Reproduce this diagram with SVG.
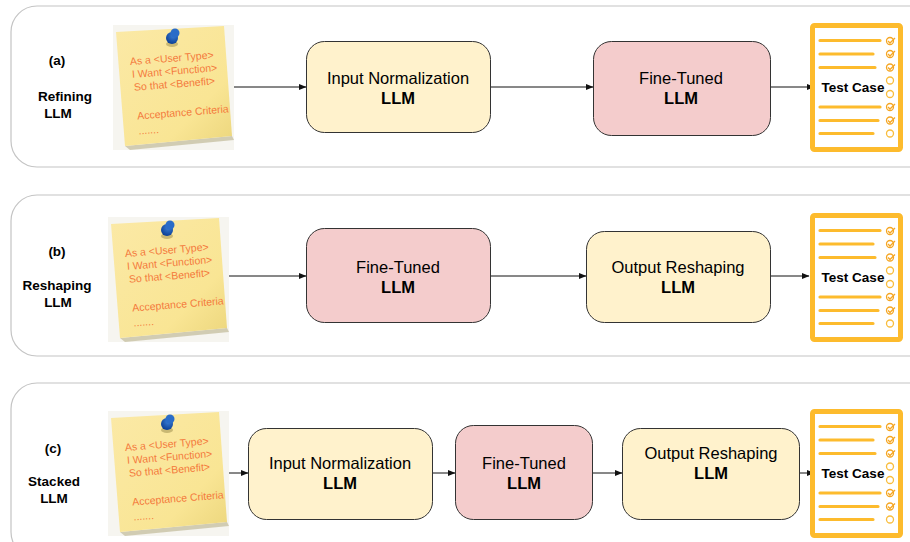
<svg xmlns="http://www.w3.org/2000/svg" width="910" height="542" viewBox="0 0 910 542">
<style>
text{font-family:"Liberation Sans",Arial,sans-serif;text-anchor:middle;fill:#000}
.panel{fill:#fff;stroke:#c4c4c4;stroke-width:1.2}
.y{fill:#fff2cc;stroke:#333;stroke-width:1}
.r{fill:#f4cccc;stroke:#333;stroke-width:1}
.t{font-size:16.5px}
.b{font-size:16.5px;font-weight:bold}
.l{font-size:13.5px;font-weight:bold}
.c{stroke:#111;stroke-width:1;fill:none;marker-end:url(#a)}
.n{font-size:10.5px;fill:#f47a3c;text-anchor:start;font-family:"Liberation Sans",Arial,sans-serif}
.ln{stroke:#fdbb2d;stroke-width:3.2;stroke-linecap:round}
.o{fill:none;stroke:#f9bd3c;stroke-width:1.3}
.k{fill:none;stroke:#f5a623;stroke-width:1.3}
</style>
<defs>
<marker id="a" viewBox="0 0 8 8" refX="7.5" refY="4" markerWidth="8" markerHeight="8" markerUnits="userSpaceOnUse" orient="auto"><path d="M0 .8 8 4 0 7.2z" fill="#111"/></marker>
<linearGradient id="ng" x1="0" y1="0" x2="1" y2="1"><stop offset="0" stop-color="#fbe9a6"/><stop offset=".7" stop-color="#f9e594"/><stop offset="1" stop-color="#ecd67c"/></linearGradient>
<radialGradient id="pg" cx=".6" cy=".3" r=".7"><stop offset="0" stop-color="#3b7fd6"/><stop offset="1" stop-color="#0b3f96"/></radialGradient>
<g id="note">
<rect x="113" y="25" width="121" height="125" fill="#f6f5f0"/>
<path d="M125 146 232 136 234 140 130 150z" fill="#b9b08a" opacity=".6"/>
<path d="M116 32 224 26 232 136 125 146z" fill="url(#ng)"/>
<ellipse cx="172" cy="44" rx="6" ry="3" fill="#8d7f3f" opacity=".45"/>
<circle cx="172" cy="38" r="6" fill="url(#pg)"/>
<circle cx="175" cy="33" r="4.5" fill="#2a6cc8"/>
<g transform="rotate(-4.5 130 62)">
<text class="n" x="130" y="65">As a &lt;User Type&gt;</text>
<text class="n" x="131" y="78">I Want &lt;Function&gt;</text>
<text class="n" x="132" y="91">So that &lt;Benefit&gt;</text>
<text class="n" x="133" y="120">Acceptance Criteria</text>
<text class="n" x="133" y="135" font-size="6">.......</text>
</g>
</g>
<g id="doc">
<rect x="812.500" y="25.500" width="88" height="124" rx="2" fill="#fff" stroke="#fdbb2d" stroke-width="5"/>
<path class="ln" d="M820 40.500H880M820 54H873M820 67.500H875M820 107H880M820 120.500H878M820 133.500H873"/>
<circle class="k" cx="890" cy="41" r="3.500"/><path class="k" d="M888 41l2 2 5-5"/>
<circle class="k" cx="890" cy="54" r="3.500"/><path class="k" d="M888 54l2 2 5-5"/>
<circle class="k" cx="890" cy="67.500" r="3.500"/><path class="k" d="M888 67.500l2 2 5-5"/>
<circle class="o" cx="890" cy="80.500" r="3.500"/>
<circle class="o" cx="890" cy="94" r="3.500"/>
<circle class="k" cx="890" cy="107" r="3.500"/><path class="k" d="M888 107l2 2 5-5"/>
<circle class="k" cx="890" cy="120.500" r="3.500"/><path class="k" d="M888 120.500l2 2 5-5"/>
<circle class="o" cx="890" cy="133.500" r="3.500"/>
</g>
</defs>
<rect width="910" height="542" fill="#fff"/>
<g id="panel-a"><rect class="panel" x="11" y="6" width="930" height="161" rx="26"/><text class="l" x="57" y="65">(a)</text><text class="l" x="65" y="101">Refining</text><text class="l" x="58" y="118">LLM</text></g>
<g id="panel-b"><rect class="panel" x="11" y="195" width="930" height="161" rx="26"/><text class="l" x="57" y="256">(b)</text><text class="l" x="57" y="290">Reshaping</text><text class="l" x="58" y="307">LLM</text></g>
<g id="panel-c"><rect class="panel" x="11" y="383" width="930" height="175" rx="26"/><text class="l" x="53" y="453">(c)</text><text class="l" x="54" y="486">Stacked</text><text class="l" x="54" y="503">LLM</text></g>
<g id="connectors">
<path class="c" d="M234 87H306"/><path class="c" d="M491 87H593"/><path class="c" d="M771 87H814"/>
<path class="c" d="M228 276H306"/><path class="c" d="M491 276H586"/><path class="c" d="M771 276H809"/>
<path class="c" d="M228 473H248"/><path class="c" d="M432 473H455"/><path class="c" d="M593 473H622"/><path class="c" d="M800 473H814"/>
</g>
<g id="note-a"><use href="#note"/></g>
<g id="note-b"><use href="#note" x="-5" y="192"/></g>
<g id="note-c"><use href="#note" x="-5" y="386"/></g>
<g id="node-a1"><rect class="y" x="306.500" y="41.500" width="184" height="91" rx="18"/><text class="t" x="398" y="84">Input Normalization</text><text class="b" x="398" y="104">LLM</text></g>
<g id="node-a2"><rect class="r" x="593.500" y="41.500" width="177" height="94" rx="18"/><text class="t" x="681" y="84">Fine-Tuned</text><text class="b" x="681" y="104">LLM</text></g>
<g id="node-b1"><rect class="r" x="306.500" y="228.500" width="184" height="94" rx="18"/><text class="t" x="398" y="273">Fine-Tuned</text><text class="b" x="398" y="293">LLM</text></g>
<g id="node-b2"><rect class="y" x="586.500" y="231.500" width="184" height="91" rx="18"/><text class="t" x="678" y="273">Output Reshaping</text><text class="b" x="678" y="293">LLM</text></g>
<g id="node-c1"><rect class="y" x="248.500" y="428.500" width="184" height="91" rx="18"/><text class="t" x="340" y="469">Input Normalization</text><text class="b" x="340" y="489">LLM</text></g>
<g id="node-c2"><rect class="r" x="455.500" y="425.500" width="137" height="94" rx="18"/><text class="t" x="524" y="469">Fine-Tuned</text><text class="b" x="524" y="489">LLM</text></g>
<g id="node-c3"><rect class="y" x="622.500" y="428.500" width="177" height="91" rx="18"/><text class="t" x="711" y="459">Output Reshaping</text><text class="b" x="711" y="479">LLM</text></g>
<g id="doc-a"><use href="#doc"/><text class="l" x="853" y="92">Test Case</text></g>
<g id="doc-b"><use href="#doc" y="190"/><text class="l" x="853" y="282">Test Case</text></g>
<g id="doc-c"><use href="#doc" y="386"/><text class="l" x="853" y="478">Test Case</text></g>
</svg>
